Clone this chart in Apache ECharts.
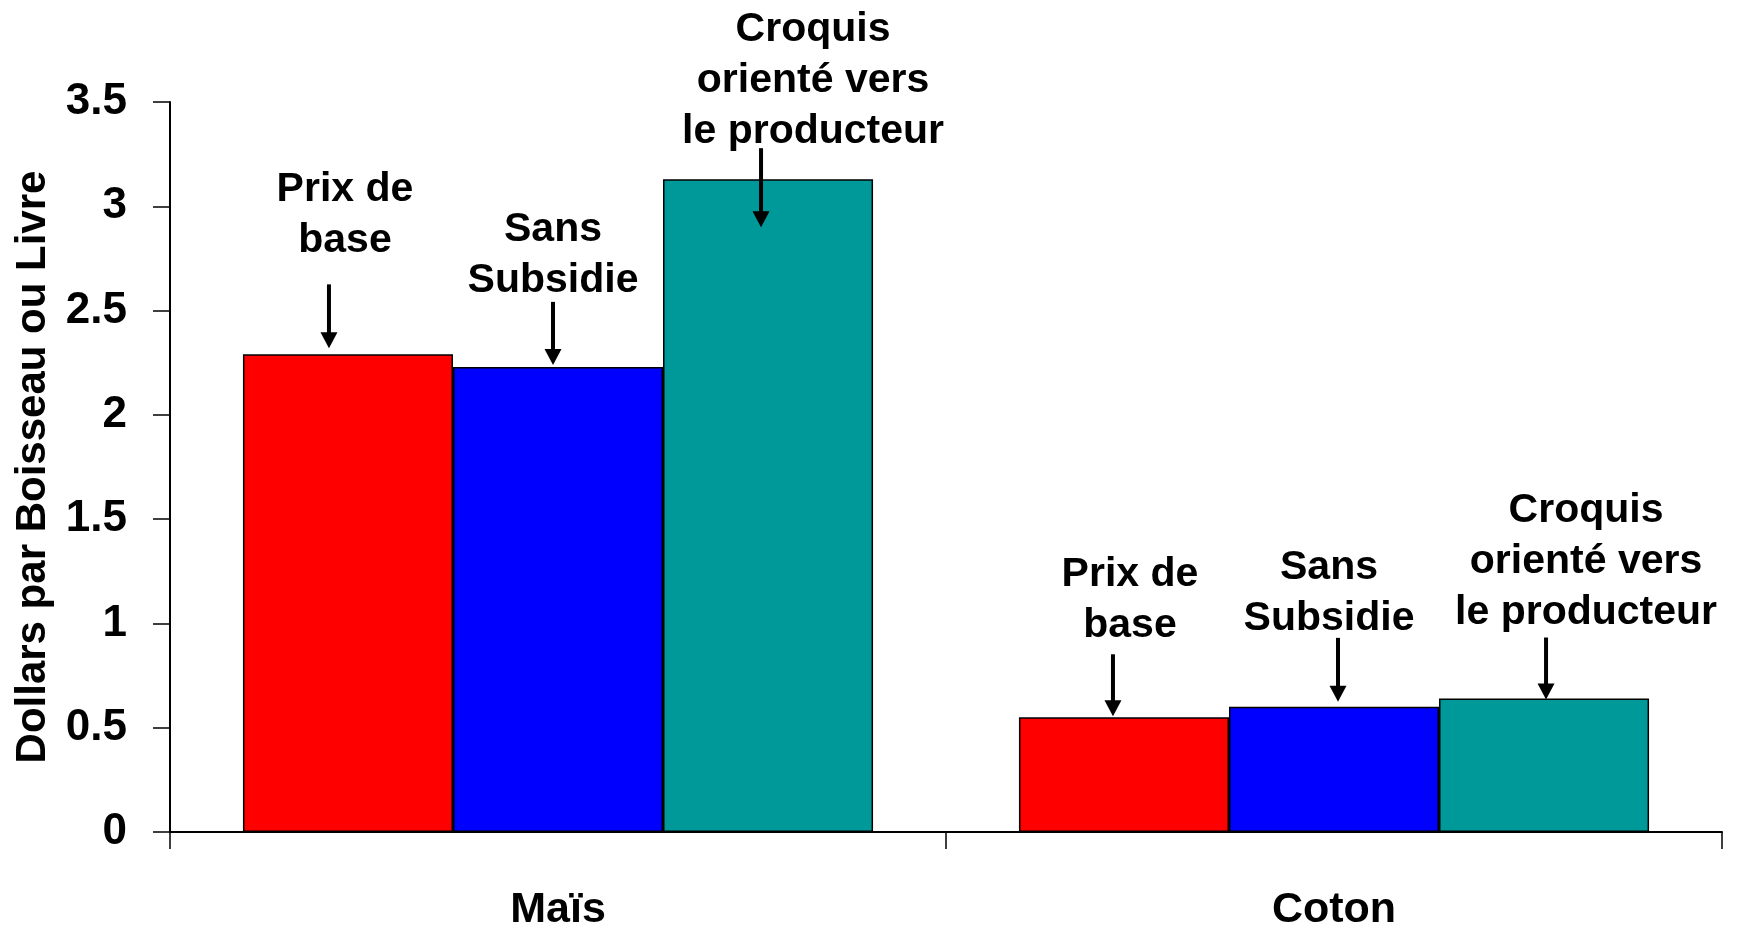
<!DOCTYPE html>
<html>
<head>
<meta charset="utf-8">
<script src="https://cdn.jsdelivr.net/npm/echarts@6/dist/echarts.min.js"></script>
<style>html,body{margin:0;padding:0;background:#fff}#c{width:1738px;height:925px}</style>
</head>
<body>
<div id="c"></div>
<script>
// ---- data ----
const categories = ['Maïs', 'Coton'];
const seriesNames = ['Prix de base', 'Sans Subsidie', 'Croquis orienté vers le producteur'];
const prixDeBase = [2.29, 0.55];
const sansSubsidie = [2.23, 0.60];
const croquis = [3.13, 0.64];
const annotationLines = [
  ['Prix de', 'base'],
  ['Sans', 'Subsidie'],
  ['Croquis', 'orienté vers', 'le producteur']
];
const yMin = 0, yMax = 3.5, yStep = 0.5;
const yTitle = 'Dollars par Boisseau ou Livre';

// ---- styles / layout ----
const FONT = '"Liberation Sans", Arial, Helvetica, sans-serif';
const colors = ['#FF0000', '#0000FF', '#009999'];
const ANNO_FS = 41, ANNO_LH = 51;
// annotation offsets relative to the top-centre of each bar [series][category]
const annoLayout = [
  [{tdx: -3, base: -105, adx: -19, tail: -70, tip: -6}, {tdx: 6, base: -82, adx: -11, tail: -63, tip: -1}],
  [{tdx: -5, base: -77, adx: -5, tail: -65, tip: -2}, {tdx: -5, base: -79, adx: 4, tail: -69, tip: -5}],
  [{tdx: 45, base: -38, adx: -7, tail: -31, tip: 48}, {tdx: 42, base: -77, adx: 2, tail: -61, tip: 1}]
];

const seriesValues = [prixDeBase, sansSubsidie, croquis];
const chart = echarts.init(document.getElementById('c'), null, {renderer: 'canvas'});

chart.setOption({
  animation: false,
  backgroundColor: '#fff',
  grid: {left: 170, right: 16, top: 102, bottom: 93, containLabel: false, outerBoundsMode: 'none'},
  xAxis: {
    type: 'category',
    data: categories,
    axisLine: {lineStyle: {color: '#000', width: 2}},
    axisTick: {show: true, length: 17, lineStyle: {color: '#000', width: 1.5}},
    axisLabel: {color: '#000', fontSize: 43, fontWeight: 'bold', fontFamily: FONT, margin: 57}
  },
  yAxis: {
    type: 'value',
    min: yMin, max: yMax, interval: yStep,
    name: yTitle,
    nameLocation: 'middle',
    nameGap: 116,
    nameTextStyle: {color: '#000', fontSize: 42, fontWeight: 'bold', fontFamily: FONT},
    axisLine: {show: true, lineStyle: {color: '#000', width: 2}},
    axisTick: {show: true, length: 17, lineStyle: {color: '#000', width: 1.5}},
    splitLine: {show: false},
    axisLabel: {color: '#000', fontSize: 44, fontWeight: 'bold', fontFamily: FONT, margin: 43}
  },
  series: seriesValues.map((vals, i) => ({
    type: 'bar',
    name: seriesNames[i],
    data: vals,
    barGap: '0%',
    barCategoryGap: '18.8%',
    itemStyle: {color: colors[i], borderColor: '#000', borderWidth: 1.5}
  }))
});

// ---- annotations placed from the bars' own layout ----
const elements = [];
const model = chart.getModel();
seriesValues.forEach((vals, s) => {
  const data = model.getSeriesByIndex(s).getData();
  vals.forEach((v, c) => {
    const lay = data.getItemLayout(c);
    const cx = lay.x + lay.width / 2;
    const top = Math.min(lay.y, lay.y + lay.height);
    const a = annoLayout[s][c];
    const lines = annotationLines[s];
    const boxBottom = top + a.base + (ANNO_LH / 2 - 0.32 * ANNO_FS) + 4;
    elements.push({
      type: 'text', x: cx + a.tdx, y: boxBottom, silent: true, z: 100,
      style: {
        text: lines.join('\n'), fill: '#000',
        fontSize: ANNO_FS, fontWeight: 'bold', fontFamily: FONT,
        lineHeight: ANNO_LH, align: 'center', verticalAlign: 'bottom'
      }
    });
    const ax = cx + a.adx, y1 = top + a.tail, y2 = top + a.tip;
    const headL = 16, headW = 8.5;
    elements.push({
      type: 'line', silent: true, z: 100,
      shape: {x1: ax, y1: y1, x2: ax, y2: y2 - headL + 2},
      style: {stroke: '#000', lineWidth: 4}
    });
    elements.push({
      type: 'polygon', silent: true, z: 100,
      shape: {points: [[ax - headW, y2 - headL], [ax + headW, y2 - headL], [ax, y2]]},
      style: {fill: '#000'}
    });
  });
});
chart.setOption({graphic: {elements: elements}});
</script>
</body>
</html>
